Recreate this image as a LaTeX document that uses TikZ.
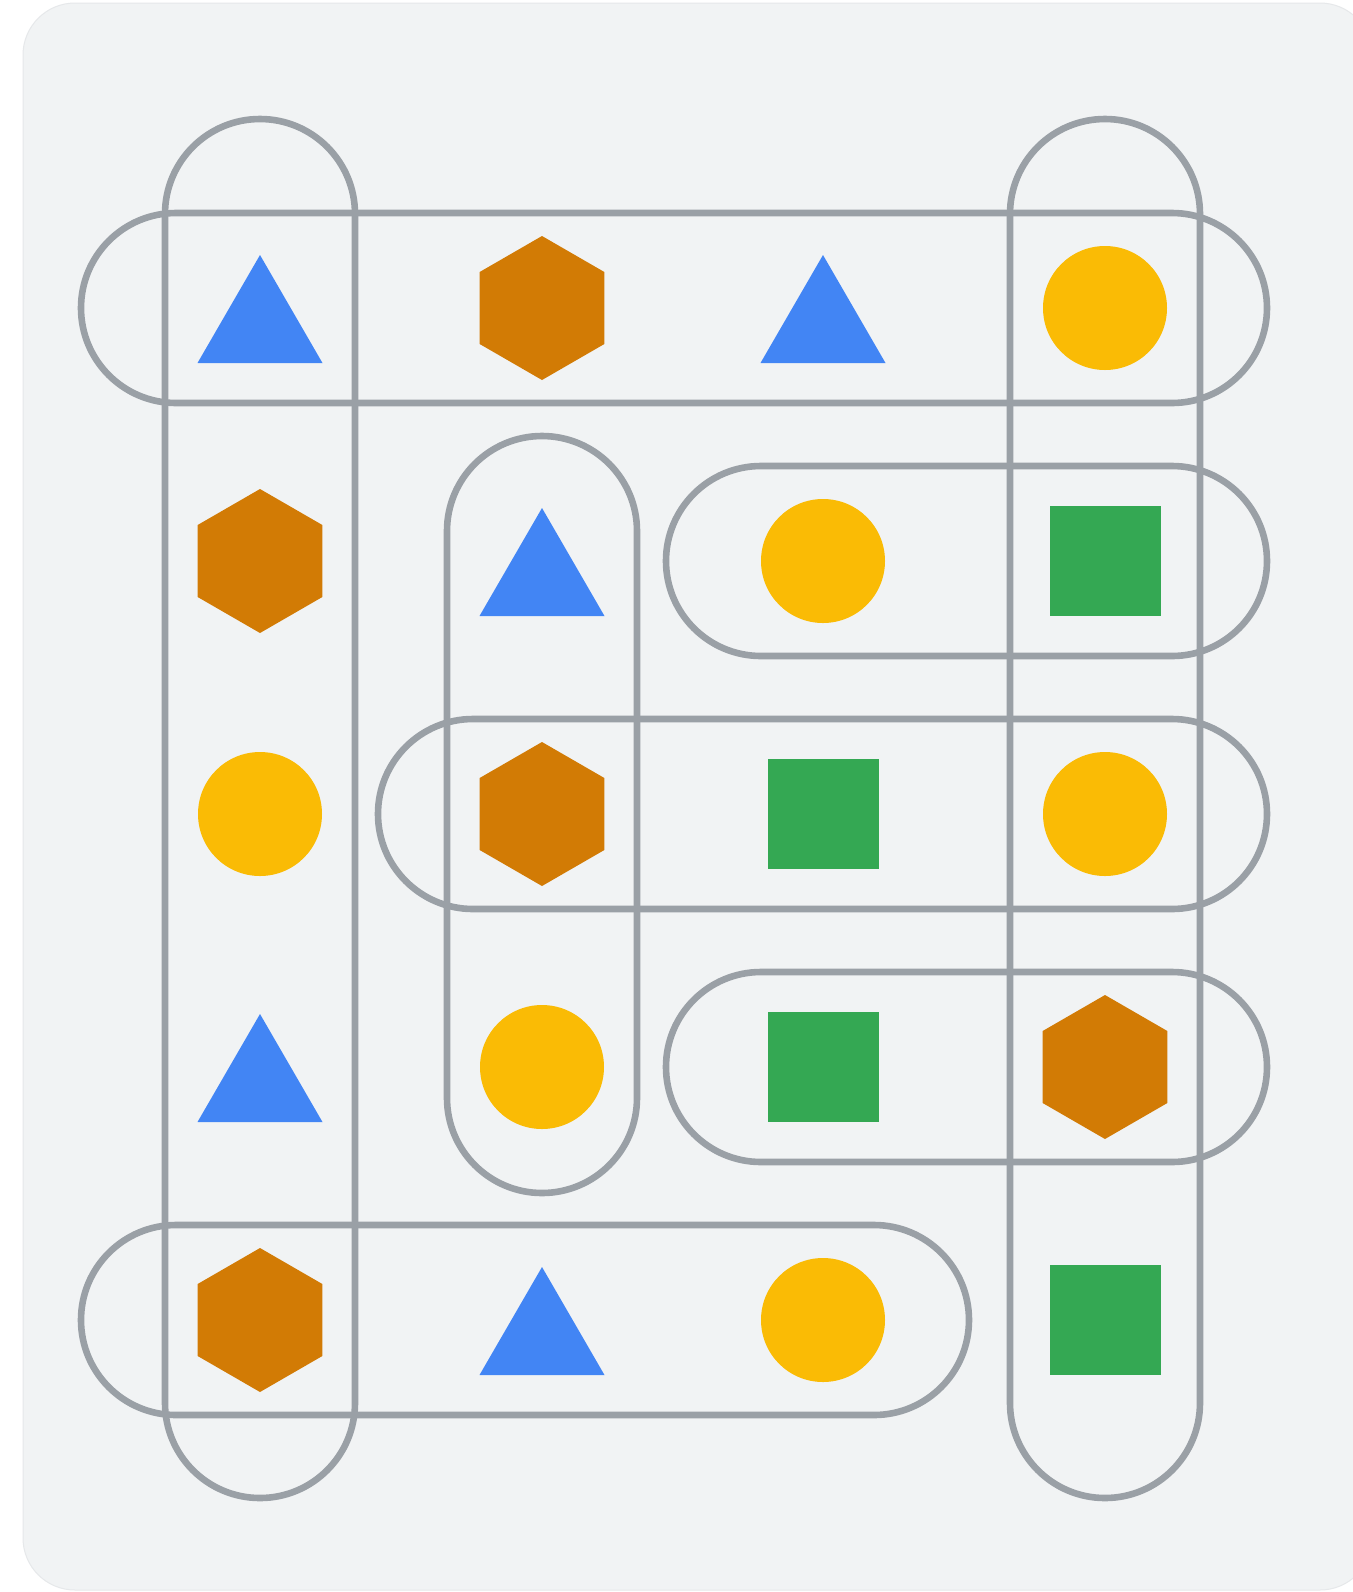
\documentclass[tikz,border=0pt]{standalone}
\usetikzlibrary{calc}
\definecolor{bgC}{HTML}{F1F3F4}
\definecolor{bgLine}{HTML}{E6E8EA}
\definecolor{pillC}{HTML}{9AA0A6}
\definecolor{blueC}{HTML}{4285F4}
\definecolor{yelC}{HTML}{FABB05}
\definecolor{greenC}{HTML}{34A853}
\definecolor{hexC}{HTML}{D27B05}
\tikzset{
  pill/.style={draw=pillC, line width=3.3pt, rounded corners=47.5pt},
}
\newcommand\shtri[2]{\fill[blueC] (#1,#2) ++(0,-53) -- ++(62.5,108) -- ++(-125,0) -- cycle;}
\newcommand\shhex[2]{\fill[hexC, shift={(#1,#2)}] (90:72) -- (150:72) -- (210:72) -- (270:72) -- (330:72) -- (30:72) -- cycle;}
\newcommand\shcirc[2]{\fill[yelC] (#1,#2) circle[radius=31pt];}
\newcommand\shsq[2]{\fill[greenC] (#1,#2) ++(-55.5,-55) rectangle ++(111,110);}
\begin{document}
\begin{tikzpicture}[x=0.5pt,y=-0.5pt]
\useasboundingbox (0,0) rectangle (1353,1592);
\clip (0,0) rectangle (1353,1592);
\fill[white] (0,0) rectangle (1353,1592);
\filldraw[fill=bgC, draw=bgLine, line width=0.5pt, rounded corners=26pt] (23,3) rectangle (1372,1590);
% pills
\draw[pill] (165,119) rectangle (355,1498);
\draw[pill] (1010,119) rectangle (1200,1498);
\draw[pill] (81,213) rectangle (1267,403);
\draw[pill] (447,436) rectangle (637,1193);
\draw[pill] (666,466) rectangle (1267,656);
\draw[pill] (378,719) rectangle (1267,909);
\draw[pill] (666,972) rectangle (1267,1162);
\draw[pill] (81,1225) rectangle (969,1415);
% row 1
\shtri{260}{308}
\shhex{542}{308}
\shtri{823}{308}
\shcirc{1105}{308}
% row 2
\shhex{260}{561}
\shtri{542}{561}
\shcirc{823}{561}
\shsq{1105}{561}
% row 3
\shcirc{260}{814}
\shhex{542}{814}
\shsq{823}{814}
\shcirc{1105}{814}
% row 4
\shtri{260}{1067}
\shcirc{542}{1067}
\shsq{823}{1067}
\shhex{1105}{1067}
% row 5
\shhex{260}{1320}
\shtri{542}{1320}
\shcirc{823}{1320}
\shsq{1105}{1320}
\end{tikzpicture}
\end{document}
